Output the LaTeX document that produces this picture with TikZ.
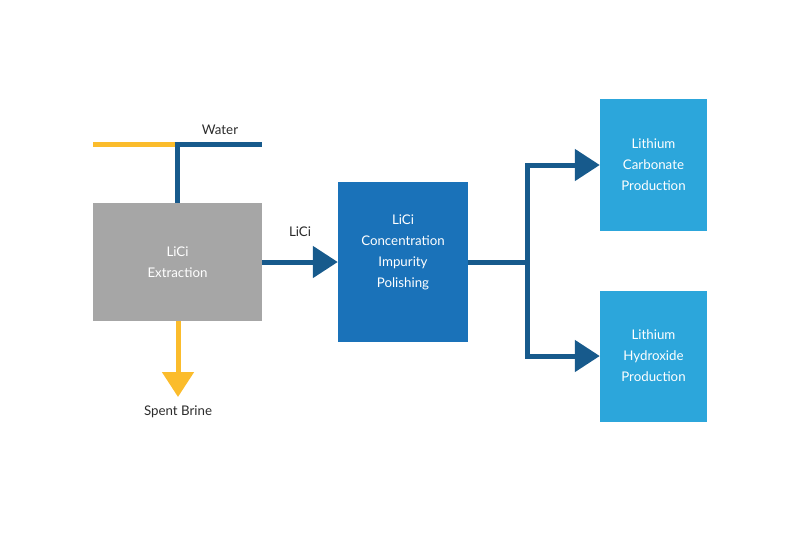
\documentclass[tikz,border=0pt]{standalone}
\usepackage{fontspec}
\setmainfont{Lato}
\usetikzlibrary{arrows.meta}
\definecolor{lineblue}{HTML}{175A8C}
\definecolor{yel}{HTML}{FBBC2C}
\definecolor{boxgray}{HTML}{A6A6A6}
\definecolor{midblue}{HTML}{1A72B9}
\definecolor{lightblue}{HTML}{2CA6DB}
\definecolor{txt}{HTML}{2B2B2B}
\begin{document}
\begin{tikzpicture}[x=1pt,y=-1pt,
  boxtext/.style={text=white, align=center, font=\fontsize{13.3}{21}\selectfont, inner sep=0pt},
  box/.style={draw=none, rectangle, boxtext},
  lbl/.style={text=txt, font=\fontsize{13.3}{15}\selectfont, inner sep=0pt},
  bline/.style={draw=lineblue, line width=5pt, line join=miter},
  yline/.style={draw=yel, line width=5pt},
  barrow/.style={bline, -{Triangle[length=25pt,width=31pt]}},
  yarrow/.style={yline, -{Triangle[length=25pt,width=31pt]}}]
\useasboundingbox (0,0) rectangle (800,533);
\node[box, fill=boxgray, minimum width=169pt, minimum height=118pt] (ext) at (177.5,262) {LiCi\\Extraction};
\node[box, fill=midblue, minimum width=130pt, minimum height=160pt,
  label={[boxtext, yshift=10pt]center:{LiCi\\Concentration\\Impurity\\Polishing}}] (conc) at (403,262) {};
\node[box, fill=lightblue, minimum width=107pt, minimum height=132pt] (carb) at (653.5,165) {Lithium\\Carbonate\\Production};
\node[box, fill=lightblue, minimum width=107pt, minimum height=131pt] (hyd) at (653.5,356) {Lithium\\Hydroxide\\Production};
% water inlet
\coordinate (yl) at (93,144);
\coordinate (wj) at (177,144);
\coordinate (wr) at (262,144);
\draw[yline] (yl) -- (wj);
\draw[bline] ([xshift=-2.5pt]wj) -- (wr);
\draw[bline] (wj) -- (ext.north -| wj);
\node[lbl] (water) at (220,130) {Water};
% spent brine
\coordinate (sb) at (178,397);
\draw[yarrow] (ext.south -| sb) -- (sb);
\node[lbl] (spent) at (178,412) {Spent Brine};
% LiCi
\draw[barrow] (ext.east) -- (conc.west);
\node[lbl] (lici) at (300,232) {LiCi};
% branch
\coordinate (br) at (527,262);
\draw[bline] (conc.east) -- ([xshift=2.5pt]br);
\draw[barrow] (br) |- (carb.west);
\draw[barrow] (br) |- (hyd.west);
\end{tikzpicture}
\end{document}
